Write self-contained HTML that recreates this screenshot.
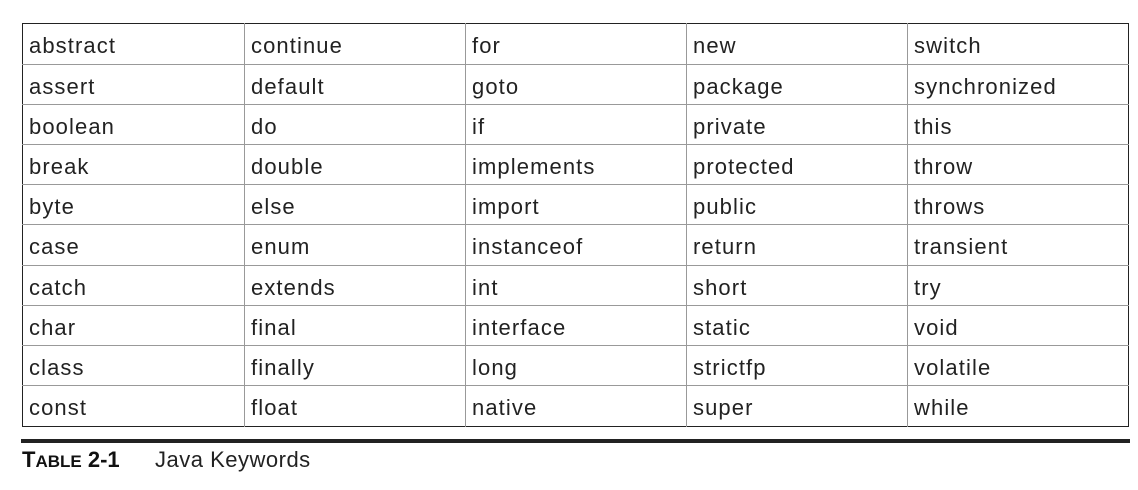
<!DOCTYPE html>
<html><head><style>
body{margin:0;width:1138px;height:490px;background:#fff;position:relative;font-family:"Liberation Sans",sans-serif;overflow:hidden}
.b{position:absolute;left:22px;top:23px;width:1105px;height:402px;border:1.5px solid #222}
.h{position:absolute;left:22px;width:1107px;height:1px;background:#999}
.v{position:absolute;top:23px;height:404px;width:1px;background:#999}
.t{position:absolute;font-size:22px;color:#222;line-height:1}
.c{letter-spacing:1.1px}
</style></head><body>
<div class="b"></div>
<div id="g"></div>
<div style="position:absolute;left:21px;top:439px;width:1109px;height:4px;background:#222"></div>
<div class="t" style="left:22px;top:449px;font-weight:bold;font-size:22px;color:#111">T<span style="font-size:17px">ABLE</span> 2-1</div>
<div class="t" style="left:155px;top:449px;letter-spacing:0.5px">Java Keywords</div>
<script>
var cols=[22,244,465,686,907],rows=[23,64,104,144,184,224,265,305,345,385];
var d=[["abstract","continue","for","new","switch"],["assert","default","goto","package","synchronized"],["boolean","do","if","private","this"],["break","double","implements","protected","throw"],["byte","else","import","public","throws"],["case","enum","instanceof","return","transient"],["catch","extends","int","short","try"],["char","final","interface","static","void"],["class","finally","long","strictfp","volatile"],["const","float","native","super","while"]];
var h="";
for(var i=1;i<rows.length;i++)h+='<div class="h" style="top:'+rows[i]+'px"></div>';
for(var j=1;j<cols.length;j++)h+='<div class="v" style="left:'+cols[j]+'px"></div>';
for(i=0;i<10;i++)for(j=0;j<5;j++)h+='<div class="t c" style="left:'+(cols[j]+7)+'px;top:'+(rows[i]+12)+'px">'+d[i][j]+'</div>';
document.getElementById("g").innerHTML=h;
</script>
</body></html>
